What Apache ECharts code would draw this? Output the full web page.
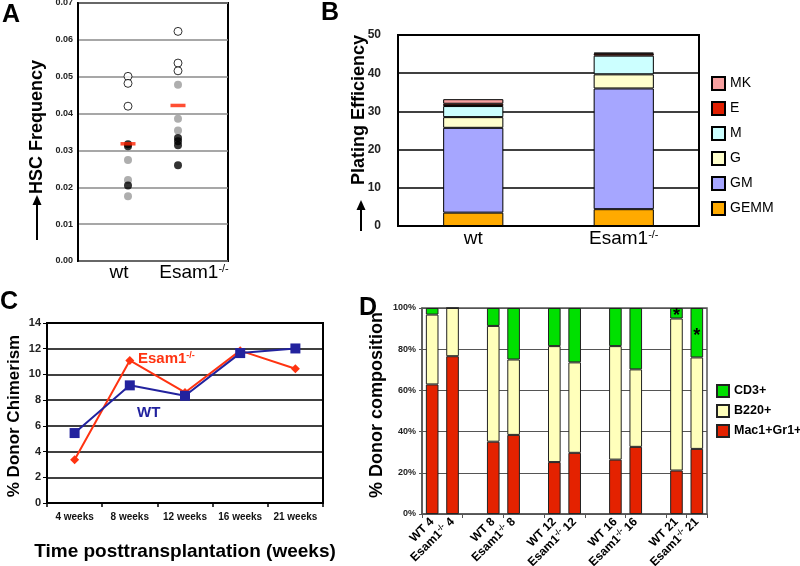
<!DOCTYPE html>
<html>
<head>
<meta charset="utf-8">
<script src="https://cdn.jsdelivr.net/npm/echarts@6/dist/echarts.min.js"></script>
<style>html,body{margin:0;padding:0;background:#fff}#c{width:800px;height:566px}</style>
</head>
<body>
<div id="c"></div>
<script>
// ---------- Panel A: HSC frequency ----------
const aCats = ['wt', 'Esam1{sup|-/-}'];
const aWtOpen = [0.0501, 0.0482, 0.0420];
const aWtGray = [0.0274, 0.0220, 0.0176];
const aWtBlack = [0.0317, 0.0311, 0.0205];
const aWtMean = [0.0318];
const aKoOpen = [0.0623, 0.0537, 0.0516];
const aKoGray = [0.0478, 0.0386, 0.0354];
const aKoBlack = [0.0334, 0.0325, 0.0314, 0.0260];
const aKoMean = [0.0422];

// ---------- Panel B: plating efficiency ----------
const bCats = ['wt', 'Esam1{sup|-/-}'];
const bGEMM = [3.5, 4.4];
const bGM = [22.2, 31.6];
const bG = [2.8, 3.7];
const bM = [2.9, 4.9];
const bE = [0.6, 0.5];
const bMK = [1.2, 0.3];

// ---------- Panel C: donor chimerism ----------
const cCats = ['4 weeks', '8 weeks', '12 weeks', '16 weeks', '21 weeks'];
const cWT = [5.44, 9.15, 8.34, 11.66, 12.02];
const cKO = [3.37, 11.09, 8.6, 11.85, 10.44];

// ---------- Panel D: donor composition ----------
const dCats = ['WT 4', 'Esam1{sup|-/-} 4', '', 'WT 8', 'Esam1{sup|-/-} 8', '', 'WT 12', 'Esam1{sup|-/-} 12', '',
  'WT 16', 'Esam1{sup|-/-} 16', '', 'WT 21', 'Esam1{sup|-/-} 21'];
const dMac = [62.9, 76.6, null, 35.1, 38.4, null, 25.2, 29.7, null, 26.4, 32.6, null, 21.1, 31.6];
const dB220 = [33.9, 23.4, null, 56.2, 36.6, null, 56.3, 43.9, null, 55.1, 37.6, null, 73.8, 44.4];
const dCD3 = [3.2, 0, null, 8.7, 25.0, null, 18.5, 26.4, null, 18.5, 29.8, null, 5.1, 24.0];
const dStarIdx = [12, 13];

const FONT = 'Liberation Sans, Arial, Helvetica, sans-serif';

function pts(x, arr) { return arr.map(v => [x, v]); }

const chart = echarts.init(document.getElementById('c'), null, {renderer: 'canvas'});

const supRich = {
  sup: {fontSize: 11, fontFamily: FONT, color: '#000', padding: [0, 0, 9, 0]}
};
const supRichSmall = {
  sup: {fontSize: 8, fontFamily: FONT, fontWeight: 'bold', color: '#000', padding: [0, 0, 6, 0]}
};

const option = {
  animation: false,
  backgroundColor: '#fff',
  textStyle: {fontFamily: FONT},
  grid: [
    {left: 78, top: 3, width: 150, height: 258, show: true, borderColor: '#000', borderWidth: 2, outerBoundsMode: 'none'},
    {left: 398, top: 35, width: 301, height: 191, show: true, borderColor: '#000', borderWidth: 2, outerBoundsMode: 'none'},
    {left: 47, top: 323, width: 276, height: 180, show: true, borderColor: '#000', borderWidth: 2, outerBoundsMode: 'none'},
    {left: 422, top: 308, width: 285, height: 206, show: true, borderColor: '#555', borderWidth: 1.5, outerBoundsMode: 'none'}
  ],
  xAxis: [
    // A: category axis for labels
    {gridIndex: 0, type: 'category', data: aCats, axisLine: {show: false}, axisTick: {show: false},
      axisLabel: {interval: 0, fontSize: 19, color: '#000', margin: 2, padding: [0, 0, 0, 7], rich: supRich}},
    // A: hidden value axis for dots
    {gridIndex: 0, type: 'value', min: 0, max: 3, show: false},
    // B
    {gridIndex: 1, type: 'category', data: bCats, axisLine: {lineStyle: {color: '#000', width: 2}}, axisTick: {show: false},
      axisLabel: {interval: 0, fontSize: 19, color: '#000', margin: 3, rich: supRich}},
    // C
    {gridIndex: 2, type: 'category', data: cCats, boundaryGap: true,
      axisLine: {lineStyle: {color: '#000', width: 2}},
      axisTick: {show: true, length: 4, lineStyle: {color: '#000', width: 1.5}},
      axisLabel: {interval: 0, fontSize: 10, fontWeight: 'bold', color: '#111', margin: 9}},
    // D
    {gridIndex: 3, type: 'category', data: dCats,
      axisLine: {lineStyle: {color: '#555', width: 1.5}},
      axisTick: {show: true, length: 4, interval: 1, lineStyle: {color: '#555'}},
      axisLabel: {fontSize: 12, fontWeight: 'bold', color: '#000', rotate: 45, interval: 0, margin: 6, rich: supRichSmall}}
  ],
  yAxis: [
    {gridIndex: 0, type: 'value', min: 0, max: 0.07, interval: 0.01,
      axisLine: {show: true, lineStyle: {color: '#000', width: 2}}, axisTick: {show: false},
      axisLabel: {fontSize: 9, fontWeight: 'bold', color: '#222', margin: 5, formatter: v => v.toFixed(2)},
      splitLine: {lineStyle: {color: '#8a8a8a', width: 1.5}}},
    {gridIndex: 1, type: 'value', min: 0, max: 50, interval: 10,
      axisLine: {show: true, lineStyle: {color: '#000', width: 2}}, axisTick: {show: false},
      axisLabel: {fontSize: 12, fontWeight: 'bold', color: '#222', margin: 17},
      splitLine: {lineStyle: {color: '#000', width: 1.5}}},
    {gridIndex: 2, type: 'value', min: 0, max: 14, interval: 2,
      axisLine: {show: true, lineStyle: {color: '#000', width: 2}},
      axisTick: {show: true, length: 4, lineStyle: {color: '#000'}},
      axisLabel: {fontSize: 11, fontWeight: 'bold', color: '#222', margin: 6},
      splitLine: {lineStyle: {color: '#000', width: 1.5}}},
    {gridIndex: 3, type: 'value', min: 0, max: 100, interval: 20,
      axisLine: {show: true, lineStyle: {color: '#555', width: 1.5}},
      axisTick: {show: true, length: 3, lineStyle: {color: '#555'}},
      axisLabel: {fontSize: 9, fontWeight: 'bold', color: '#222', margin: 6, formatter: '{value}%'},
      splitLine: {lineStyle: {color: '#555', width: 1.2}}}
  ],
  legend: [
    {orient: 'vertical', left: 706, top: 71, itemWidth: 13, itemHeight: 13, itemGap: 10,
      icon: 'rect', textStyle: {fontSize: 14, color: '#000', fontFamily: FONT},
      data: ['MK', 'E', 'M', 'G', 'GM', 'GEMM']},
    {orient: 'vertical', left: 711, top: 379, itemWidth: 12, itemHeight: 12, itemGap: 6,
      icon: 'rect', textStyle: {fontSize: 12.5, fontWeight: 'bold', color: '#000', fontFamily: FONT},
      data: ['CD3+', 'B220+', 'Mac1+Gr1+']}
  ],
  series: [
    // ----- A -----
    {type: 'scatter', xAxisIndex: 1, yAxisIndex: 0, symbolSize: 8, data: pts(1, aWtOpen).concat(pts(2, aKoOpen)),
      itemStyle: {color: '#fff', borderColor: '#000', borderWidth: 1}},
    {type: 'scatter', xAxisIndex: 1, yAxisIndex: 0, symbolSize: 8, data: pts(1, aWtGray).concat(pts(2, aKoGray)),
      itemStyle: {color: '#9a9a9a'}},
    {type: 'scatter', xAxisIndex: 1, yAxisIndex: 0, symbolSize: 8, data: pts(1, aWtBlack).concat(pts(2, aKoBlack)),
      itemStyle: {color: '#000'}},
    {type: 'scatter', xAxisIndex: 1, yAxisIndex: 0, symbol: 'rect', symbolSize: [15, 3.5],
      data: pts(1, aWtMean).concat(pts(2, aKoMean)), itemStyle: {color: '#ff2200'}},
    // ----- B -----
    {name: 'GEMM', type: 'bar', stack: 'b', xAxisIndex: 2, yAxisIndex: 1, barWidth: '40%', data: bGEMM,
      itemStyle: {color: '#ffaa00', borderColor: '#000', borderWidth: 1}},
    {name: 'GM', type: 'bar', stack: 'b', xAxisIndex: 2, yAxisIndex: 1, data: bGM,
      itemStyle: {color: '#a6a6ff', borderColor: '#000', borderWidth: 1}},
    {name: 'G', type: 'bar', stack: 'b', xAxisIndex: 2, yAxisIndex: 1, data: bG,
      itemStyle: {color: '#ffffcc', borderColor: '#000', borderWidth: 1}},
    {name: 'M', type: 'bar', stack: 'b', xAxisIndex: 2, yAxisIndex: 1, data: bM,
      itemStyle: {color: '#ccffff', borderColor: '#000', borderWidth: 1}},
    {name: 'E', type: 'bar', stack: 'b', xAxisIndex: 2, yAxisIndex: 1, data: bE,
      itemStyle: {color: '#e01e00', borderColor: '#000', borderWidth: 1}},
    {name: 'MK', type: 'bar', stack: 'b', xAxisIndex: 2, yAxisIndex: 1, data: bMK,
      itemStyle: {color: '#f7a0a0', borderColor: '#000', borderWidth: 1}},
    // ----- C -----
    {name: 'Esam1-/-', type: 'line', xAxisIndex: 3, yAxisIndex: 2, data: cKO, symbol: 'diamond', symbolSize: 9,
      lineStyle: {color: '#ff3311', width: 2}, itemStyle: {color: '#ff3311'}},
    {name: 'WT', type: 'line', xAxisIndex: 3, yAxisIndex: 2, data: cWT, symbol: 'rect', symbolSize: 10,
      lineStyle: {color: '#22229e', width: 2}, itemStyle: {color: '#22229e'}},
    // ----- D -----
    {name: 'Mac1+Gr1+', type: 'bar', stack: 'd', xAxisIndex: 4, yAxisIndex: 3, barWidth: '62%', data: dMac,
      itemStyle: {color: '#e42200', borderColor: '#222', borderWidth: 1}},
    {name: 'B220+', type: 'bar', stack: 'd', xAxisIndex: 4, yAxisIndex: 3, data: dB220,
      itemStyle: {color: '#ffffbb', borderColor: '#222', borderWidth: 1}},
    {name: 'CD3+', type: 'bar', stack: 'd', xAxisIndex: 4, yAxisIndex: 3,
      data: dCD3.map((v, i) => dStarIdx.includes(i)
        ? {value: v, label: {show: true, position: 'inside', formatter: '*', fontSize: 18, fontWeight: 'bold', color: '#000', offset: [0, 3]}}
        : v),
      itemStyle: {color: '#00e000', borderColor: '#222', borderWidth: 1}}
  ],
  graphic: [
    // panel letters
    {type: 'text', left: 2, top: 3, style: {text: 'A', font: 'bold 25px ' + FONT, fill: '#000'}},
    {type: 'text', left: 321, top: 1, style: {text: 'B', font: 'bold 25px ' + FONT, fill: '#000'}},
    {type: 'text', left: 0, top: 290, style: {text: 'C', font: 'bold 25px ' + FONT, fill: '#000'}},
    {type: 'text', left: 359, top: 296, style: {text: 'D', font: 'bold 25px ' + FONT, fill: '#000'}},
    // axis titles
    {type: 'text', x: 37, y: 127, rotation: Math.PI / 2,
      style: {text: 'HSC Frequency', font: 'bold 18px ' + FONT, fill: '#000', align: 'center', verticalAlign: 'middle'}},
    {type: 'text', x: 359, y: 110, rotation: Math.PI / 2,
      style: {text: 'Plating Efficiency', font: 'bold 18px ' + FONT, fill: '#000', align: 'center', verticalAlign: 'middle'}},
    {type: 'text', x: 14, y: 416, rotation: Math.PI / 2,
      style: {text: '% Donor Chimerism', font: 'bold 17px ' + FONT, fill: '#000', align: 'center', verticalAlign: 'middle'}},
    {type: 'text', x: 377, y: 405, rotation: Math.PI / 2,
      style: {text: '% Donor composition', font: 'bold 18px ' + FONT, fill: '#000', align: 'center', verticalAlign: 'middle'}},
    {type: 'text', x: 185, y: 552,
      style: {text: 'Time posttransplantation (weeks)', font: 'bold 19px ' + FONT, fill: '#000', align: 'center', verticalAlign: 'middle'}},
    // arrows
    {type: 'line', shape: {x1: 37, y1: 240, x2: 37, y2: 203}, style: {stroke: '#000', lineWidth: 2}},
    {type: 'polygon', shape: {points: [[37, 195], [32.5, 205], [41.5, 205]]}, style: {fill: '#000'}},
    {type: 'line', shape: {x1: 361, y1: 231, x2: 361, y2: 208}, style: {stroke: '#000', lineWidth: 2}},
    {type: 'polygon', shape: {points: [[361, 200], [356.5, 210], [365.5, 210]]}, style: {fill: '#000'}},
    // C annotations
    {type: 'text', left: 138, top: 351,
      style: {text: 'Esam1{s|-/-}', font: 'bold 15px ' + FONT, fill: '#ff3311',
        rich: {s: {font: 'bold 9px ' + FONT, fill: '#ff3311', padding: [0, 0, 7, 0]}}}},
    {type: 'text', left: 137, top: 405, style: {text: 'WT', font: 'bold 15px ' + FONT, fill: '#22229e'}}
  ]
};
chart.setOption(option);
</script>
</body>
</html>
